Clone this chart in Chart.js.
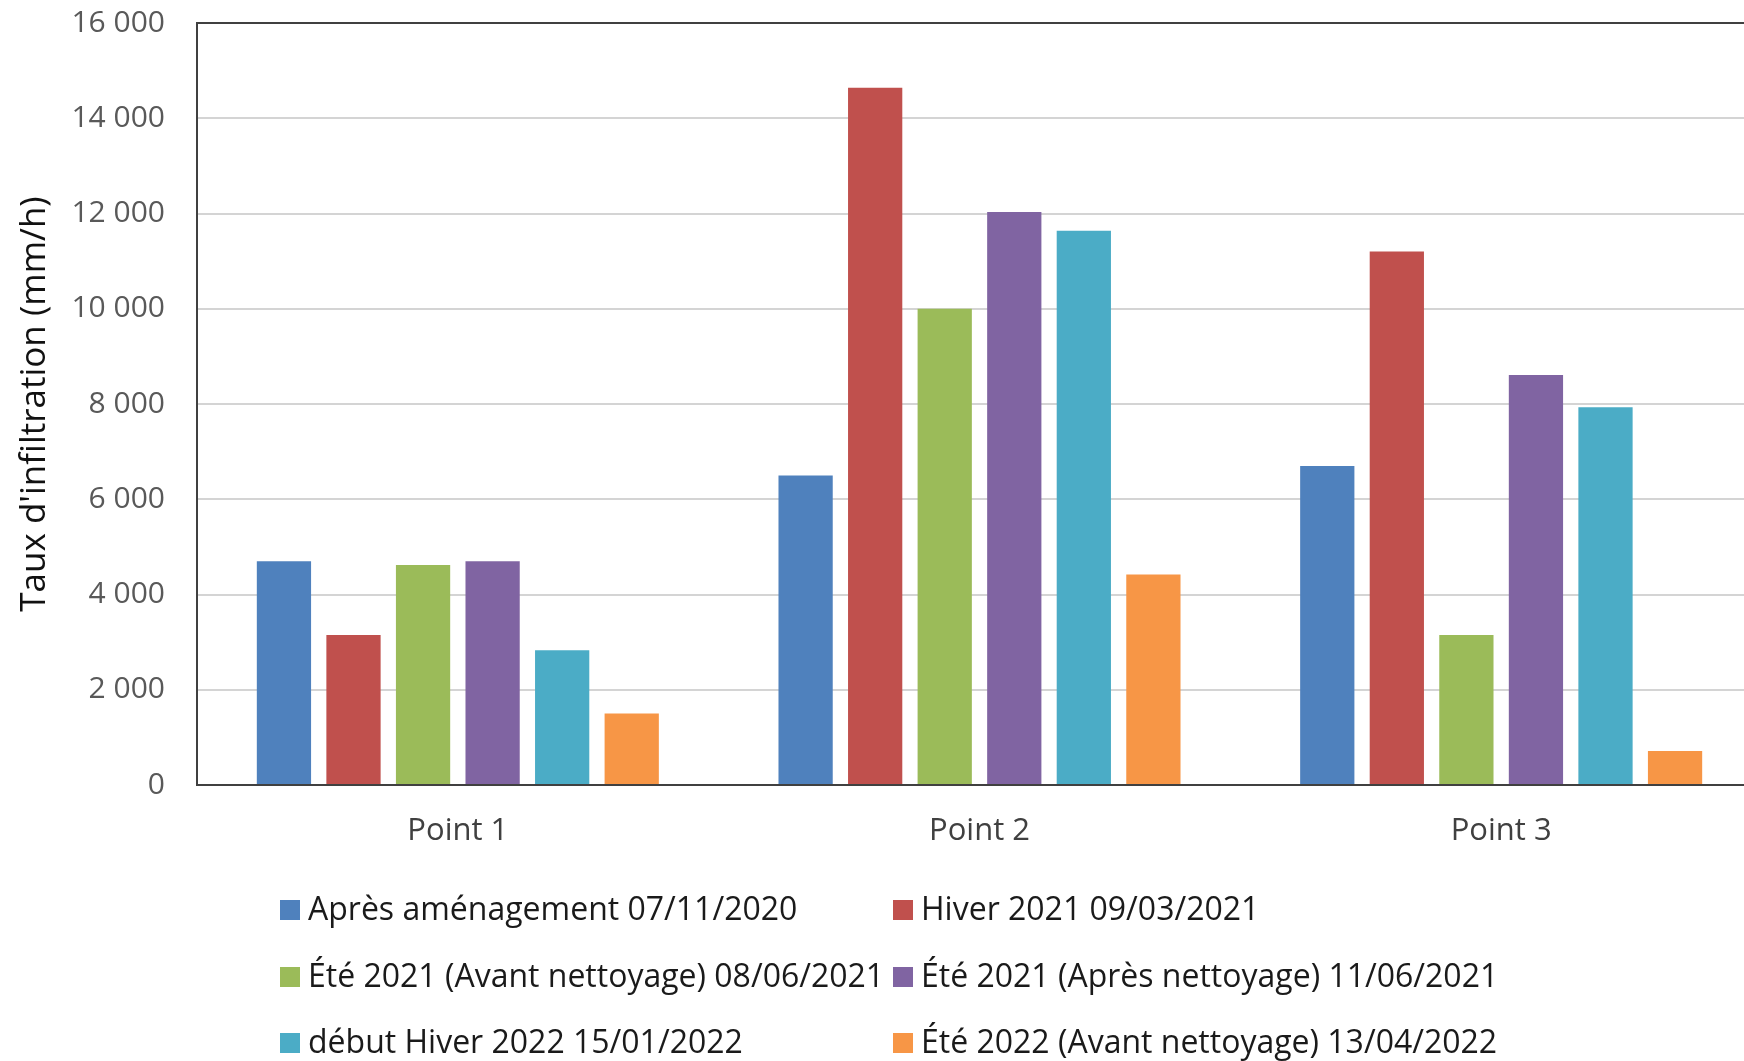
<!DOCTYPE html>
<html>
<head>
<meta charset="utf-8">
<script src="https://cdn.jsdelivr.net/npm/chart.js@4.4.0/dist/chart.umd.min.js"></script>
<style>
  html, body { margin: 0; padding: 0; background: #fff; overflow: hidden; }
  canvas { display: block; }
</style>
</head>
<body>
<canvas id="myChart" width="1762" height="1061"></canvas>
<script>
  const categories = ['Point 1', 'Point 2', 'Point 3']
  const seriesNames = [
    'Après aménagement 07/11/2020',
    'Hiver 2021 09/03/2021',
    'Été 2021 (Avant nettoyage) 08/06/2021',
    'Été 2021 (Après nettoyage) 11/06/2021',
    'début Hiver 2022 15/01/2022',
    'Été 2022 (Avant nettoyage) 13/04/2022'
  ]
  const apresAmenagement = [4700, 6500, 6700]
  const hiver2021 = [3150, 14640, 11200]
  const ete2021Avant = [4620, 10000, 3150]
  const ete2021Apres = [4700, 12030, 8610]
  const debutHiver2022 = [2830, 11640, 7930]
  const ete2022Avant = [1500, 4420, 715]
  const yMax = 16000
  const yStep = 2000

  const colorChart = ['#4F81BD', '#C0504D', '#9BBB59', '#8064A2', '#4BACC6', '#F79646']
  const allSeries = [apresAmenagement, hiver2021, ete2021Avant, ete2021Apres, debutHiver2022, ete2022Avant]

  const fmt = v => String(v).replace(/\B(?=(\d{3})+(?!\d))/g, ' ')

  // legend in two columns, like the original
  const gridLegend = {
    id: 'gridLegend',
    afterDraw(chart) {
      const c = chart.ctx
      const colX = [280, 893]
      const rowY = [910, 977, 1043]
      c.save()
      c.font = '32px "Open Sans"'
      c.textBaseline = 'middle'
      chart.data.datasets.forEach((ds, i) => {
        const x = colX[i % 2]
        const y = rowY[Math.floor(i / 2)]
        c.fillStyle = ds.backgroundColor
        c.fillRect(x, y - 10, 20, 20)
        c.fillStyle = '#1a1a1a'
        c.fillText(ds.label, x + 28, y + 1)
      })
      c.restore()
    }
  }

  const ctx = document.getElementById('myChart')
  new Chart(ctx, {
    type: 'bar',
    data: {
      labels: categories,
      datasets: allSeries.map((d, i) => ({
        label: seriesNames[i],
        data: d,
        backgroundColor: colorChart[i],
        borderWidth: 0,
        categoryPercentage: 0.8,
        barPercentage: 0.78
      }))
    },
    options: {
      responsive: false,
      animation: false,
      devicePixelRatio: 1,
      layout: { padding: 0 },
      plugins: { legend: { display: false }, tooltip: { enabled: false } },
      scales: {
        x: {
          grid: { display: false, drawTicks: false },
          border: { color: '#404040', width: 2 },
          ticks: { color: '#404040', font: { family: 'Open Sans', size: 31 }, padding: 28 },
          afterFit(axis) { axis.height = 276 }
        },
        y: {
          min: 0,
          max: yMax,
          grid: {
            drawTicks: false,
            lineWidth: 2,
            color: c => c.tick && c.tick.value === yMax ? '#404040' : '#d4d4d4'
          },
          border: { color: '#404040', width: 2 },
          ticks: {
            stepSize: yStep,
            color: '#595959',
            font: { family: 'Open Sans', size: 30 },
            padding: 32,
            callback: v => fmt(v)
          },
          title: {
            display: true,
            text: "Taux d'infiltration (mm/h)",
            color: '#111',
            font: { family: 'Open Sans', size: 35 },
            padding: { top: 14, bottom: 0 }
          },
          afterFit(axis) {
            axis.width = 197
            axis.paddingTop = 23
          }
        }
      }
    },
    plugins: [gridLegend]
  })
</script>
</body>
</html>
